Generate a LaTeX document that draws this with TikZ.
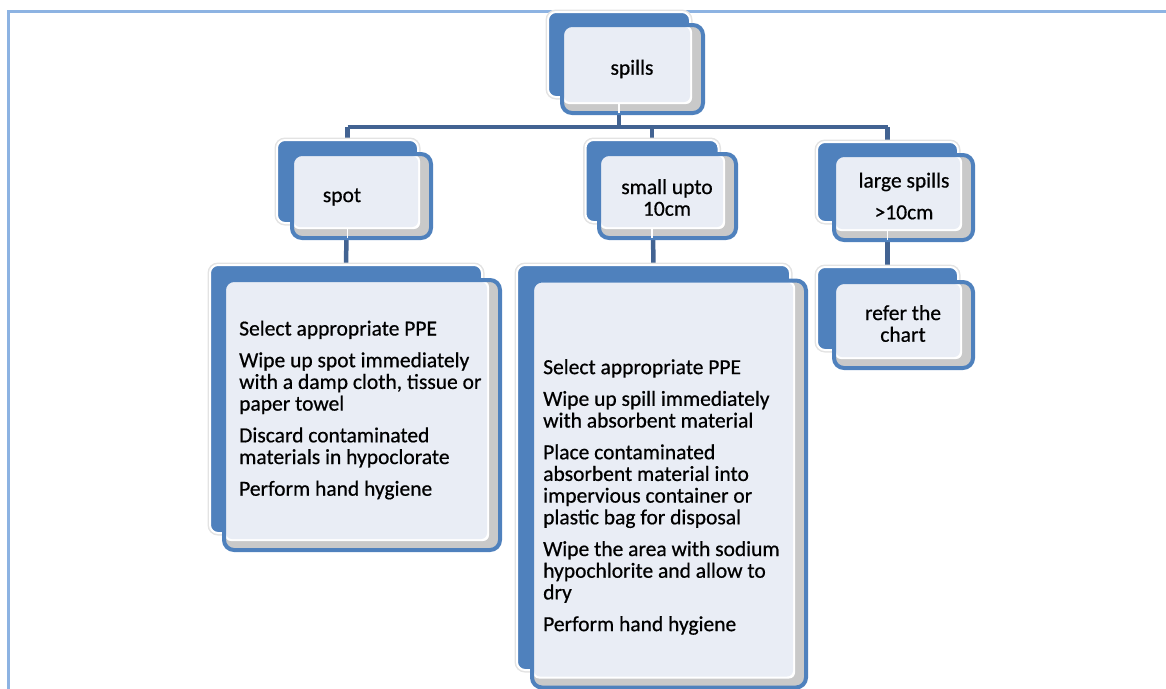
\documentclass[tikz,border=0pt]{standalone}
\usepackage{fontspec}
\setmainfont{Carlito}[FakeBold=0.6]
\usetikzlibrary{backgrounds,calc}

\definecolor{boxblue}{RGB}{79,129,189}
\definecolor{linkblue}{RGB}{66,99,146}
\definecolor{frameblue}{RGB}{141,179,226}
\definecolor{lightfill}{RGB}{233,237,245}
\definecolor{shadegray}{RGB}{201,201,201}

\begin{document}
\begin{tikzpicture}[x=1pt,y=-1pt,
  backbox/.style={fill=boxblue,rounded corners=8pt,inner sep=0pt,
    preaction={draw=gray!22,line width=5pt},draw=white,line width=2pt},
  frontbox/.style={draw=boxblue,line width=4pt,fill=shadegray,rounded corners=10pt,inner sep=0pt,
    path picture={
      \fill[white,rounded corners=6pt] ([xshift=1pt,yshift=-1pt]path picture bounding box.north west)
        rectangle ([xshift=-11pt,yshift=9pt]path picture bounding box.south east);
      \fill[lightfill,rounded corners=6pt] ([xshift=2pt,yshift=-2pt]path picture bounding box.north west)
        rectangle ([xshift=-13pt,yshift=11pt]path picture bounding box.south east);
    }},
  link/.style={draw=linkblue,line width=4.5pt},
  stub/.style={draw=white,line width=1.5pt},
  lbl/.style={font=\fontsize{21.5}{21.7}\selectfont,text=black,inner sep=0pt,align=center}]
  \useasboundingbox (0,0) rectangle (1166,688);

  % top node
  \node[backbox,minimum width=142pt,minimum height=85pt] (spillsB) at (619,54.5) {};
  \node[frontbox,minimum width=141pt,minimum height=88pt] (spillsF) at (632.5,69) {};
  \node[lbl] (spillsT) at (632,69) {spills};

  % second row
  \node[backbox,minimum width=141pt,minimum height=83pt] (spotB) at (347.5,181.5) {};
  \node[frontbox,minimum width=139pt,minimum height=84pt] (spotF) at (361.5,196) {};
  \node[lbl] (spotT) at (342,197) {spot};

  \node[backbox,minimum width=133pt,minimum height=82pt] (smallB) at (652,181) {};
  \node[frontbox,minimum width=137pt,minimum height=84pt] (smallF) at (667.5,196) {};
  \node[lbl] (smallT) at (667,197.5) {small upto\\10cm};

  \node[backbox,minimum width=141pt,minimum height=80pt] (largeB) at (887.5,182) {};
  \node[frontbox,minimum width=139pt,minimum height=85pt] (largeF) at (903.5,197.5) {};
  \node[lbl] (largeT) at (904,196) {large spills\\[10pt]{>}10cm};

  % third row
  \node[backbox,minimum width=272pt,minimum height=268pt] (spotdB) at (346,399) {};
  \node[frontbox,minimum width=276pt,minimum height=270pt] (spotdF) at (362,415) {};
  \node[lbl,anchor=west,align=left] (spotdT) at (239,410) {Select appropriate PPE\\[10pt]
    Wipe up spot immediately\\ with a damp cloth, tissue or\\ paper towel\\[10pt]
    Discard contaminated\\ materials in hypoclorate\\[10pt]
    Perform hand hygiene};

  \node[backbox,minimum width=273pt,minimum height=405pt] (smalldB) at (653.5,467.5) {};
  \node[frontbox,minimum width=274pt,minimum height=407pt] (smalldF) at (669,484) {};
  \node[lbl,anchor=west,align=left] (smalldT) at (543,497) {Select appropriate PPE\\[10pt]
    Wipe up spill immediately\\ with absorbent material\\[10pt]
    Place contaminated\\ absorbent material into\\ impervious container or\\ plastic bag for disposal\\[10pt]
    Wipe the area with sodium\\ hypochlorite and allow to\\ dry\\[10pt]
    Perform hand hygiene};

  \node[backbox,minimum width=141pt,minimum height=83pt] (referB) at (887.5,308.5) {};
  \node[frontbox,minimum width=139pt,minimum height=86pt] (referF) at (903.5,325) {};
  \node[lbl] (referT) at (903,323.5) {refer the\\chart};

  % connectors behind the boxes
  \coordinate (bar) at (0,127);
  \begin{scope}[on background layer]
    \draw[frameblue,line width=3pt] (8,690) -- (8,11) -- (1170,11);
    \draw[link] (spillsB.center) -- (spillsB.center |- bar);
    \draw[link] (spotB.center |- bar) -- (largeB.center |- bar);
    \draw[link] (spotB.center |- bar) -- (spotB.north);
    \draw[link] (smallB.center |- bar) -- (smallB.north);
    \draw[link] (largeB.center |- bar) -- (largeB.north);
    \draw[link] (spotB.center) -- (spotdB.north);
    \draw[link] (smallB.center) -- (smalldB.north);
    \draw[link] (largeB.center) -- (referB.north);
  \end{scope}

  % light gaps where the connectors leave the boxes
  \draw[stub] ($(spillsF.south -| spillsB.center)+(0,-2)$) -- ++(0,-9);
  \draw[stub] ($(spotF.south -| spotB.center)+(0,-2)$) -- ++(0,-9);
  \draw[stub] ($(smallF.south -| smallB.center)+(0,-2)$) -- ++(0,-9);
  \draw[stub] ($(largeF.south -| largeB.center)+(0,-2)$) -- ++(0,-9);
\end{tikzpicture}
\end{document}
